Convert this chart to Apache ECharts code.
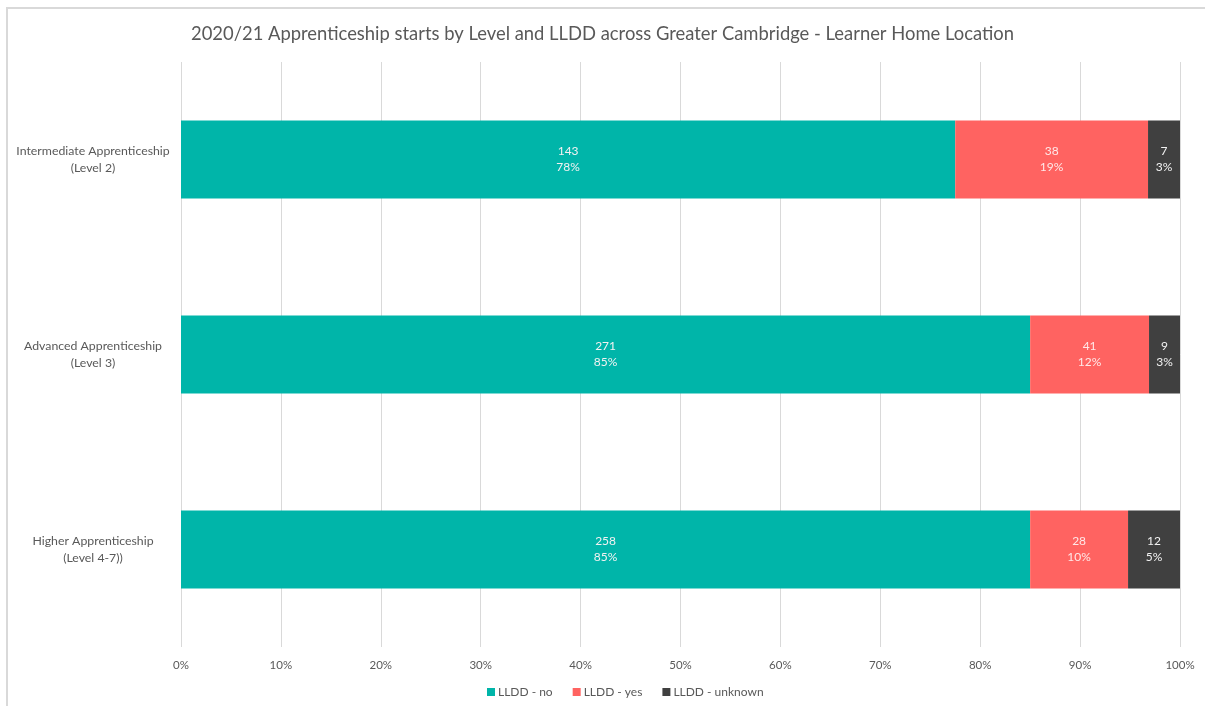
<!DOCTYPE html>
<html>
<head>
<meta charset="utf-8">
<script src="https://cdn.jsdelivr.net/npm/echarts@6/dist/echarts.min.js"></script>
<style>
  html, body { margin: 0; padding: 0; background: #fff; }
  #chart { width: 1205px; height: 706px; }
</style>
</head>
<body>
<div id="chart"></div>
<script>
// Stacked 100% bars — share per LLDD status, counts shown on top of share
const levels = ['Intermediate Apprenticeship\n(Level 2)', 'Advanced Apprenticeship\n(Level 3)', 'Higher Apprenticeship\n(Level 4-7))'];
const seriesNames = ['LLDD - no', 'LLDD - yes', 'LLDD - unknown'];
const colors = ['#00b5a9', '#ff6361', '#404040'];

// learner counts per level
const countNo = [143, 271, 258];
const countYes = [38, 41, 28];
const countUnknown = [7, 9, 12];

// share of starts (%)
const shareNo = [77.5, 85.0, 85.0];
const shareYes = [19.3, 11.9, 9.8];
const shareUnknown = [3.2, 3.1, 5.2];

const xTicks = [0, 10, 20, 30, 40, 50, 60, 70, 80, 90, 100];

const counts = [countNo, countYes, countUnknown];
const shares = [shareNo, shareYes, shareUnknown];
const FONT = 'Lato, "Open Sans", sans-serif';

const chart = echarts.init(document.getElementById('chart'));

chart.setOption({
  animation: false,
  color: colors,
  textStyle: { fontFamily: FONT },
  title: {
    text: '2020/21 Apprenticeship starts by Level and LLDD across Greater Cambridge - Learner Home Location',
    left: 'center',
    top: 20,
    textStyle: { fontFamily: FONT, fontSize: 18.4, fontWeight: 'normal', color: '#595959' },
  },
  graphic: [{
    type: 'polyline',
    shape: { points: [[7, 706], [7, 8], [1205, 8]] },
    style: { stroke: '#d9d9d9', lineWidth: 2, fill: null },
    silent: true,
  }],
  legend: {
    bottom: 3,
    left: 482,
    itemWidth: 8,
    itemHeight: 8,
    itemGap: 20,
    icon: 'rect',
    textStyle: { fontFamily: FONT, fontSize: 12, color: '#595959', padding: [0, 0, 0, -2] },
    data: seriesNames,
  },
  grid: { left: 181, right: 25, top: 62, bottom: 59, containLabel: false },
  xAxis: {
    type: 'value',
    min: 0,
    max: 100,
    interval: 10,
    axisLine: { show: false },
    axisTick: { show: false },
    splitLine: { lineStyle: { color: '#d9d9d9', width: 1 } },
    axisLabel: {
      margin: 12,
      fontSize: 11.5,
      color: '#595959',
      formatter: v => xTicks.includes(v) ? v + '%' : '',
    },
  },
  yAxis: {
    type: 'category',
    data: levels,
    inverse: true,
    axisLine: { show: false },
    axisTick: { show: false },
    axisLabel: {
      align: 'center',
      margin: 88,
      fontSize: 12.3,
      lineHeight: 17,
      color: '#595959',
    },
  },
  series: seriesNames.map((name, si) => ({
    name,
    type: 'bar',
    stack: 'total',
    barWidth: '40%',
    data: shares[si],
    itemStyle: { color: colors[si] },
    label: {
      show: true,
      position: 'inside',
      fontFamily: FONT,
      fontSize: 12,
      lineHeight: 16,
      color: si === 1 ? '#ffe8e8' : '#f2f2f2',
      formatter: p => counts[si][p.dataIndex] + '\n' + Math.round(p.value) + '%',
    },
  })),
});
</script>
</body>
</html>
